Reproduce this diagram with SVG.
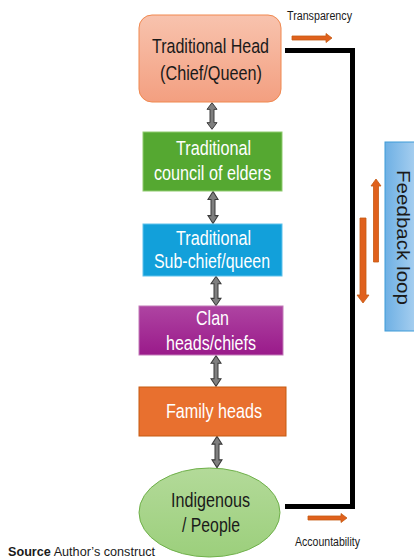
<svg xmlns="http://www.w3.org/2000/svg" width="414" height="560" viewBox="0 0 414 560">
<defs>
<linearGradient id="gHead" x1="0" y1="0" x2="0" y2="1"><stop offset="0" stop-color="#f8c3ae"/><stop offset="1" stop-color="#f39f80"/></linearGradient>
<linearGradient id="gPurple" x1="0" y1="0" x2="0" y2="1"><stop offset="0" stop-color="#ae44a2"/><stop offset="1" stop-color="#9a1a8a"/></linearGradient>
<linearGradient id="gEll" x1="0" y1="0" x2="0" y2="1"><stop offset="0" stop-color="#b3da99"/><stop offset="1" stop-color="#9ccf7c"/></linearGradient>
<linearGradient id="gFb" x1="0" y1="0" x2="1" y2="0"><stop offset="0" stop-color="#6eb0e4"/><stop offset="1" stop-color="#a9d0f0"/></linearGradient>
<path id="dbl" d="M0,-14 L5,-7 L2,-7 L2,7 L5,7 L0,14 L-5,7 L-2,7 L-2,-7 L-5,-7 Z"/>
</defs>
<style>
text{font-family:"Liberation Sans Narrow","Liberation Sans",Arial,sans-serif;text-anchor:middle}
.lbl{font-size:20.5px}
.w{fill:#ffffff}
.k{fill:#1a1a1a}
.small{font-size:12px;fill:#1a1a1a}
.dbl{fill:#7f7f7f;stroke:#3a3a3a;stroke-width:1}
.orange{fill:#e0611d;stroke:#c55a11;stroke-width:0.8}
.loop{fill:none;stroke:#000;stroke-width:5}
</style>
<rect width="414" height="560" fill="#ffffff"/>
<g id="connectors">
<polyline class="loop" points="285,50.5 352.5,50.5 352.5,506.5 285,506.5"/>
<use href="#dbl" class="dbl" transform="translate(212,116) scale(1,0.95)"/>
<use href="#dbl" class="dbl" transform="translate(213,207.5) scale(1,1.15)"/>
<use href="#dbl" class="dbl" transform="translate(216,291) scale(1,1.05)"/>
<use href="#dbl" class="dbl" transform="translate(216,371) scale(1,1.1)"/>
<use href="#dbl" class="dbl" transform="translate(217,452) scale(1,1.12)"/>
<path class="orange" d="M292,36 L326,36 L326,33.5 L332,38 L326,42.5 L326,40 L292,40 Z"/>
<path class="orange" d="M308,516 L341,516 L341,513.5 L347,518 L341,522.5 L341,520 L308,520 Z"/>
<path class="orange" d="M373.5,262 L373.5,186 L371,186 L376,179 L381,186 L378.5,186 L378.5,262 Z"/>
<path class="orange" d="M360,218 L366,218 L366,295 L369,295 L363,303 L357,295 L360,295 Z"/>
<text class="small" x="319.5" y="20" textLength="65" lengthAdjust="spacingAndGlyphs">Transparency</text>
<text class="small" x="327.5" y="546" textLength="65" lengthAdjust="spacingAndGlyphs">Accountability</text>
</g>
<g id="head">
<rect x="139" y="15" width="142" height="87" rx="13" fill="url(#gHead)" stroke="#f0884f" stroke-width="1"/>
<text class="lbl k" x="210.5" y="53" textLength="117" lengthAdjust="spacingAndGlyphs">Traditional Head</text>
<text class="lbl k" x="211" y="80" textLength="102" lengthAdjust="spacingAndGlyphs">(Chief/Queen)</text>
</g>
<g id="council">
<rect x="143" y="132" width="139" height="59" fill="#55a831" stroke="#8fcb6e" stroke-width="1"/>
<text class="lbl w" x="213.5" y="155" textLength="75" lengthAdjust="spacingAndGlyphs">Traditional</text>
<text class="lbl w" x="212.5" y="180" textLength="117" lengthAdjust="spacingAndGlyphs">council of elders</text>
</g>
<g id="subchief">
<rect x="143" y="224" width="139" height="52" fill="#12a0da" stroke="#5ec2ec" stroke-width="1"/>
<text class="lbl w" x="213.5" y="245" textLength="75" lengthAdjust="spacingAndGlyphs">Traditional</text>
<text class="lbl w" x="212" y="268" textLength="116" lengthAdjust="spacingAndGlyphs">Sub-chief/queen</text>
</g>
<g id="clan">
<rect x="139" y="306" width="144" height="49" fill="url(#gPurple)" stroke="#c27ab8" stroke-width="1"/>
<text class="lbl w" x="212.5" y="325" textLength="33" lengthAdjust="spacingAndGlyphs">Clan</text>
<text class="lbl w" x="211" y="350" textLength="90" lengthAdjust="spacingAndGlyphs">heads/chiefs</text>
</g>
<g id="family">
<rect x="139" y="387" width="147" height="49" fill="#e8702f" stroke="#c55a11" stroke-width="1"/>
<text class="lbl w" x="214" y="418" textLength="96" lengthAdjust="spacingAndGlyphs">Family heads</text>
</g>
<g id="people">
<ellipse cx="209.5" cy="512.5" rx="70.5" ry="44.5" fill="url(#gEll)" stroke="#6fb04a" stroke-width="1"/>
<text class="lbl k" x="210.5" y="507" textLength="79" lengthAdjust="spacingAndGlyphs">Indigenous</text>
<text class="lbl k" x="211" y="532" textLength="58" lengthAdjust="spacingAndGlyphs">/ People</text>
</g>
<g id="feedback">
<rect x="385" y="142" width="32" height="189" fill="url(#gFb)" stroke="#3e9bd8" stroke-width="1"/>
<text class="k" style="font-size:19px" transform="translate(396.5,237.5) rotate(90)" x="0" y="0" textLength="135" lengthAdjust="spacingAndGlyphs">Feedback loop</text>
</g>
<g id="source">
<text x="8" y="556" style="text-anchor:start;font-size:13px" fill="#1a1a1a" textLength="147" lengthAdjust="spacingAndGlyphs"><tspan font-weight="bold">Source</tspan> Author’s construct</text>
</g>
</svg>
